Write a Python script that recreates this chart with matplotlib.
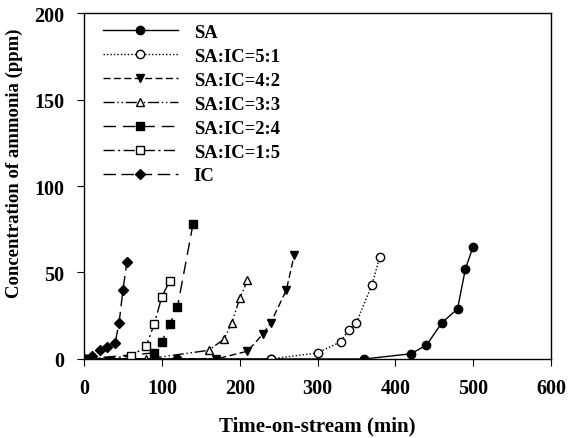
import matplotlib
matplotlib.use("Agg")
import matplotlib.pyplot as plt

plt.rcParams['font.family'] = ['Liberation Serif', 'DejaVu Serif']
plt.rcParams['font.weight'] = 'bold'

# time-on-stream (min) and ammonia concentration (ppm) per sorbent mix
sa_x = [0, 120, 240, 360, 420, 440, 460, 480, 490, 500]
sa_y = [0, 0, 0, 0, 3, 8, 21, 29, 52, 65]
r51_x = [0, 240, 300, 330, 340, 350, 370, 380]
r51_y = [0, 0, 3.5, 10, 17, 21, 43, 59]
r42_x = [0, 170, 210, 230, 240, 260, 270]
r42_y = [0, 0, 4.5, 14.5, 21, 40, 60]
r33_x = [0, 80, 160, 180, 190, 200, 210]
r33_y = [0, 0, 5, 11.5, 21, 35, 45.5]
r24_x = [0, 90, 100, 110, 120, 140]
r24_y = [0, 3.5, 10, 20, 30, 78]
r15_x = [0, 60, 80, 90, 100, 110]
r15_y = [0, 1.5, 7.5, 20, 36, 45]
ic_x = [0, 10, 20, 30, 40, 45, 50, 55]
ic_y = [0, 1.5, 5, 7, 9.5, 21, 40, 56]

labels = ['SA', 'SA:IC=5:1', 'SA:IC=4:2', 'SA:IC=3:3', 'SA:IC=2:4', 'SA:IC=1:5', 'IC']

series = [
    (sa_x, sa_y, '-', 'o', 'k'),
    (r51_x, r51_y, (0, (1, 1.5)), 'o', 'w'),
    (r42_x, r42_y, (0, (5, 2.5)), 'v', 'k'),
    (r33_x, r33_y, (0, (8, 2, 1, 2, 1, 2)), '^', 'w'),
    (r24_x, r24_y, (0, (9, 5)), 's', 'k'),
    (r15_x, r15_y, (0, (8, 2.5, 1.5, 2.5)), 's', 'w'),
    (ic_x, ic_y, (0, (9, 4)), 'D', 'k'),
]


def main():
    fig = plt.figure(figsize=(5.68, 4.39), dpi=100)
    ax = fig.add_axes([0.148, 0.18, 0.822, 0.788])
    for (x, y, ls, m, fc), lab in zip(series, labels):
        ms = 5.5 if m == 'D' else 6
        ax.plot(x, y, color='k', linestyle=ls, linewidth=1, marker=m,
                markersize=ms, markerfacecolor=fc, markeredgecolor='k',
                markeredgewidth=1, label=lab)
    ax.set_xlim(0, 600)
    ax.set_ylim(0, 200)
    ax.set_xticks(range(0, 601, 100))
    ax.set_yticks(range(0, 201, 50))
    ax.tick_params(direction='out', length=5, labelsize=14.5, pad=9)
    ax.set_xlabel('Time-on-stream (min)', fontsize=15, fontweight='bold', labelpad=12)
    ax.set_ylabel('Concentration of ammonia (ppm)', fontsize=13.5, fontweight='bold',
                  labelpad=8, y=0.57)
    for s in ax.spines.values():
        s.set_linewidth(1)
    for lbl in ax.get_xticklabels() + ax.get_yticklabels():
        lbl.set_fontweight('bold')
    ax.legend(loc='upper left', bbox_to_anchor=(0.025, 0.99), frameon=False,
              fontsize=13.4, handlelength=4.0, handletextpad=0.86,
              labelspacing=0.37, borderaxespad=0)
    fig.savefig('out.png', dpi=100)


if __name__ == '__main__':
    main()
